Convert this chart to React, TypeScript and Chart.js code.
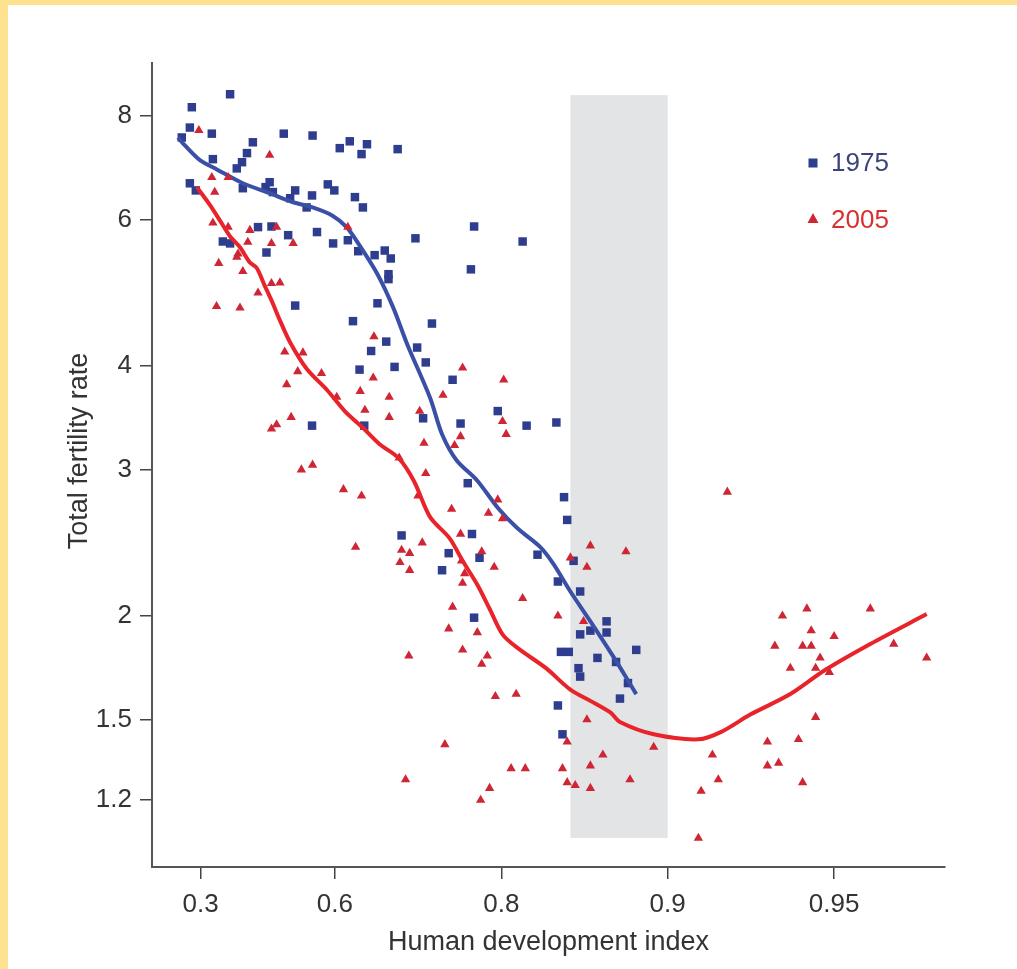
import React, { useEffect, useRef } from "react";
import { Chart, registerables } from "chart.js";

Chart.register(...registerables);

const W = 1017;
const H = 969;
const FONT = '"Liberation Sans", Arial, Helvetica, sans-serif';

// Axis ticks and ranges (HDI axis is drawn on a -ln(1 - HDI) scale)
const X_TICKS = [0.3, 0.6, 0.8, 0.9, 0.95];
const Y_TICKS = [1.2, 1.5, 2, 3, 4, 6, 8];
const X_RANGE = [0.143, 0.9685];
const Y_RANGE = [0.9966, 9.27];
const BAND_HDI = [0.85, 0.9];
const BAND_TFR = [1.08, 8.48];

const SERIES_NAMES = ["1975", "2005"];

// [HDI, total fertility rate]
const points1975: [number, number][] = [
  [0.381, 8.5], [0.274, 8.2], [0.268, 7.75], [0.243, 7.54], [0.332, 7.62],
  [0.505, 7.62], [0.561, 7.58], [0.608, 7.32], [0.624, 7.46], [0.65, 7.4],
  [0.642, 7.2], [0.437, 7.44], [0.423, 7.22], [0.335, 7.1], [0.411, 7.04],
  [0.398, 6.92], [0.268, 6.64], [0.286, 6.51], [0.413, 6.55], [0.475, 6.66],
  [0.466, 6.57], [0.482, 6.48], [0.528, 6.51], [0.518, 6.37], [0.56, 6.42],
  [0.55, 6.21], [0.588, 6.62], [0.599, 6.51], [0.632, 6.39], [0.644, 6.21],
  [0.449, 5.88], [0.479, 5.89], [0.569, 5.8], [0.514, 5.75], [0.362, 5.65],
  [0.381, 5.62], [0.468, 5.48], [0.597, 5.62], [0.621, 5.67], [0.661, 5.44],
  [0.692, 7.3], [0.637, 5.5], [0.675, 5.51], [0.683, 5.39], [0.68, 5.16],
  [0.68, 5.09], [0.665, 4.76], [0.714, 5.7], [0.776, 5.89], [0.817, 5.65],
  [0.773, 5.23], [0.629, 4.53], [0.733, 4.5], [0.677, 4.28], [0.656, 4.17],
  [0.716, 4.21], [0.726, 4.04], [0.688, 3.99], [0.639, 3.96], [0.755, 3.85],
  [0.797, 3.53], [0.723, 3.46], [0.763, 3.41], [0.646, 3.39], [0.82, 3.39],
  [0.841, 3.42], [0.77, 2.89], [0.528, 4.73], [0.56, 3.39], [0.846, 2.78],
  [0.848, 2.61], [0.774, 2.51], [0.751, 2.38], [0.781, 2.35], [0.828, 2.37],
  [0.697, 2.5], [0.744, 2.27], [0.842, 2.2], [0.852, 2.33], [0.856, 2.14],
  [0.776, 1.99], [0.871, 1.97], [0.856, 1.9], [0.862, 1.92], [0.871, 1.91],
  [0.844, 1.81], [0.849, 1.81], [0.866, 1.78], [0.876, 1.76], [0.886, 1.82],
  [0.855, 1.73], [0.856, 1.69], [0.882, 1.66], [0.878, 1.59], [0.842, 1.56],
  [0.845, 1.44],
];

const points2005: [number, number][] = [
  [0.295, 7.69], [0.475, 7.18], [0.332, 6.75], [0.376, 6.75], [0.34, 6.48],
  [0.335, 5.95], [0.376, 5.88], [0.43, 5.83], [0.49, 5.88], [0.425, 5.64],
  [0.479, 5.62], [0.524, 5.62], [0.621, 5.88], [0.401, 5.46], [0.351, 5.32],
  [0.398, 5.41], [0.413, 5.2], [0.449, 4.9], [0.479, 5.03], [0.497, 5.04],
  [0.345, 4.72], [0.406, 4.7], [0.507, 4.16], [0.543, 4.15], [0.533, 3.94],
  [0.577, 3.92], [0.511, 3.8], [0.603, 3.67], [0.479, 3.36], [0.49, 3.4],
  [0.52, 3.47], [0.66, 4.34], [0.765, 3.98], [0.802, 3.85], [0.659, 3.87],
  [0.64, 3.73], [0.681, 3.67], [0.745, 3.69], [0.647, 3.54], [0.681, 3.47],
  [0.719, 3.53], [0.801, 3.43], [0.804, 3.31], [0.763, 3.29], [0.757, 3.21],
  [0.724, 3.23], [0.694, 3.1], [0.726, 2.97], [0.614, 2.84], [0.642, 2.79],
  [0.717, 2.79], [0.754, 2.69], [0.789, 2.66], [0.797, 2.76], [0.801, 2.62],
  [0.763, 2.51], [0.783, 2.39], [0.862, 2.43], [0.881, 2.39], [0.85, 2.35],
  [0.722, 2.45], [0.697, 2.4], [0.707, 2.38], [0.695, 2.32], [0.707, 2.27],
  [0.794, 2.29], [0.764, 2.33], [0.767, 2.25], [0.765, 2.19], [0.817, 2.1],
  [0.755, 2.05], [0.751, 1.93], [0.779, 1.91], [0.765, 1.82], [0.788, 1.79],
  [0.783, 1.75], [0.706, 1.79], [0.842, 2.0], [0.86, 2.29], [0.858, 1.97],
  [0.795, 1.6], [0.812, 1.61], [0.86, 1.5], [0.848, 1.41], [0.869, 1.36],
  [0.862, 1.32], [0.819, 1.31], [0.845, 1.31], [0.848, 1.26], [0.853, 1.25],
  [0.862, 1.24], [0.883, 1.27], [0.894, 1.39], [0.917, 1.36], [0.919, 1.27],
  [0.913, 1.23], [0.912, 1.08], [0.922, 2.82], [0.938, 2.0], [0.944, 2.04],
  [0.957, 2.04], [0.945, 1.92], [0.95, 1.89], [0.936, 1.84], [0.943, 1.84],
  [0.945, 1.84], [0.947, 1.78], [0.94, 1.73], [0.946, 1.73], [0.949, 1.71],
  [0.961, 1.85], [0.966, 1.78], [0.946, 1.51], [0.934, 1.41], [0.942, 1.42],
  [0.934, 1.32], [0.937, 1.33], [0.943, 1.26], [0.54, 3.0], [0.561, 3.04],
  [0.633, 2.42], [0.702, 1.27], [0.747, 1.4], [0.782, 1.2], [0.79, 1.24],
  [0.808, 1.31],
];

// Smoothed trend curves
const trend1975: [number, number][] = [
  [0.231, 7.54], [0.252, 7.38], [0.298, 7.08], [0.346, 6.9], [0.413, 6.64],
  [0.475, 6.46], [0.524, 6.3], [0.561, 6.21], [0.596, 6.07], [0.619, 5.88],
  [0.639, 5.59], [0.665, 5.16], [0.686, 4.71], [0.704, 4.25], [0.731, 3.66],
  [0.744, 3.31], [0.759, 3.08], [0.779, 2.91], [0.797, 2.7], [0.813, 2.55],
  [0.83, 2.42], [0.839, 2.31], [0.85, 2.14], [0.862, 1.97], [0.875, 1.78],
  [0.886, 1.61],
];

const trend2005: [number, number][] = [
  [0.289, 6.57], [0.327, 6.25], [0.354, 5.99], [0.381, 5.73], [0.406, 5.56],
  [0.43, 5.33], [0.446, 5.25], [0.464, 5.0], [0.479, 4.8], [0.497, 4.54],
  [0.518, 4.27], [0.55, 3.97], [0.587, 3.74], [0.616, 3.53], [0.644, 3.37],
  [0.668, 3.22], [0.693, 3.1], [0.712, 2.91], [0.731, 2.63], [0.752, 2.48],
  [0.765, 2.33], [0.779, 2.18], [0.79, 2.04], [0.801, 1.9], [0.813, 1.83],
  [0.834, 1.73], [0.85, 1.63], [0.862, 1.58], [0.873, 1.53], [0.878, 1.49],
  [0.894, 1.44], [0.912, 1.42], [0.92, 1.45], [0.929, 1.52], [0.94, 1.61],
  [0.948, 1.72], [0.957, 1.85], [0.966, 2.01],
];

const BLUE_PT = "#2f3d8e";
const BLUE_LINE = "#3a4fa6";
const RED_PT = "#cf2636";
const RED_LINE = "#e8232a";

const tx = (h: number) => -Math.log(1 - h);
const toXY = (arr: [number, number][]) => arr.map(([h, v]) => ({ x: tx(h), y: v }));

const framePlugin = {
  id: "frame",
  beforeDraw(chart: any) {
    const { ctx, width, height } = chart;
    ctx.save();
    ctx.fillStyle = "#ffffff";
    ctx.fillRect(0, 0, width, height);
    ctx.fillStyle = "#FFE28F";
    ctx.fillRect(0, 0, width, 5);
    ctx.fillRect(0, 0, 8, height);
    ctx.restore();
  },
};

const bandPlugin = {
  id: "band",
  beforeDatasetsDraw(chart: any) {
    const { ctx } = chart;
    const x = chart.scales.x;
    const y = chart.scales.y;
    const x0 = x.getPixelForValue(tx(BAND_HDI[0]));
    const x1 = x.getPixelForValue(tx(BAND_HDI[1]));
    const y0 = y.getPixelForValue(BAND_TFR[1]);
    const y1 = y.getPixelForValue(BAND_TFR[0]);
    ctx.save();
    ctx.fillStyle = "#e3e4e6";
    ctx.fillRect(x0, y0, x1 - x0, y1 - y0);
    ctx.restore();
  },
};

const textPlugin = {
  id: "texts",
  afterDraw(chart: any) {
    const { ctx, chartArea } = chart;
    ctx.save();
    ctx.fillStyle = "#333333";
    ctx.font = `27px ${FONT}`;
    ctx.textAlign = "center";
    ctx.textBaseline = "middle";
    ctx.fillText("Human development index", (chartArea.left + chartArea.right) / 2, 943);
    ctx.translate(80, 451);
    ctx.rotate(-Math.PI / 2);
    ctx.fillText("Total fertility rate", 0, 0);
    ctx.restore();

    // legend
    ctx.save();
    ctx.font = `26px ${FONT}`;
    ctx.textAlign = "left";
    ctx.textBaseline = "middle";
    ctx.fillStyle = BLUE_PT;
    ctx.fillRect(808.5, 158.5, 9, 9);
    ctx.fillStyle = "#3b4478";
    ctx.fillText(SERIES_NAMES[0], 831, 164);
    ctx.fillStyle = RED_PT;
    ctx.beginPath();
    ctx.moveTo(813, 213);
    ctx.lineTo(818.5, 223);
    ctx.lineTo(807.5, 223);
    ctx.closePath();
    ctx.fill();
    ctx.fillStyle = "#d8302f";
    ctx.fillText(SERIES_NAMES[1], 831, 221);
    ctx.restore();
  },
};

export default function App() {
  const ref = useRef<HTMLCanvasElement | null>(null);

  useEffect(() => {
    if (!ref.current) return;
    const chart = new Chart(ref.current, {
      type: "scatter",
      data: {
        datasets: [
          {
            label: "2005 trend",
            data: toXY(trend2005),
            showLine: true,
            borderColor: RED_LINE,
            borderWidth: 4,
            pointRadius: 0,
            tension: 0.3,
            order: 0,
          },
          {
            label: SERIES_NAMES[1],
            data: toXY(points2005),
            pointStyle: "triangle",
            pointRadius: 5.4,
            backgroundColor: RED_PT,
            borderColor: RED_PT,
            borderWidth: 0,
            order: 1,
          },
          {
            label: "1975 trend",
            data: toXY(trend1975),
            showLine: true,
            borderColor: BLUE_LINE,
            borderWidth: 4,
            pointRadius: 0,
            tension: 0.3,
            order: 2,
          },
          {
            label: SERIES_NAMES[0],
            data: toXY(points1975),
            pointStyle: "rect",
            pointRadius: 6,
            backgroundColor: BLUE_PT,
            borderColor: BLUE_PT,
            borderWidth: 0,
            order: 3,
          },
        ],
      },
      options: {
        responsive: false,
        maintainAspectRatio: false,
        devicePixelRatio: 1,
        animation: false,
        events: [],
        layout: { padding: { top: 63, right: 72, left: 0, bottom: 0 } },
        plugins: { legend: { display: false }, tooltip: { enabled: false } },
        scales: {
          x: {
            type: "linear",
            min: tx(X_RANGE[0]),
            max: tx(X_RANGE[1]),
            afterBuildTicks: (scale: any) => {
              scale.ticks = X_TICKS.map((h) => ({ value: tx(h) }));
            },
            afterFit: (scale: any) => {
              scale.height = 102;
            },
            ticks: {
              autoSkip: false,
              maxRotation: 0,
              padding: 10,
              color: "#333333",
              font: { family: FONT, size: 26 },
              callback: (_v: any, i: number) => String(X_TICKS[i]),
            },
            grid: { drawOnChartArea: false, drawTicks: true, tickLength: 12, color: "#444444", lineWidth: 1.5 },
            border: { display: true, color: "#555555", width: 2 },
          },
          y: {
            type: "logarithmic",
            min: Y_RANGE[0],
            max: Y_RANGE[1],
            afterBuildTicks: (scale: any) => {
              scale.ticks = Y_TICKS.map((v) => ({ value: v }));
            },
            afterFit: (scale: any) => {
              scale.width = 152;
            },
            ticks: {
              autoSkip: false,
              padding: 8,
              color: "#333333",
              font: { family: FONT, size: 26 },
              callback: (v: any) => String(v),
            },
            grid: { drawOnChartArea: false, drawTicks: true, tickLength: 12, color: "#444444", lineWidth: 1.5 },
            border: { display: true, color: "#555555", width: 2 },
          },
        },
      },
      plugins: [framePlugin, bandPlugin, textPlugin],
    });
    return () => chart.destroy();
  }, []);

  return (
    <div style={{ position: "fixed", left: 0, top: 0, width: W, height: H }}>
      <canvas ref={ref} width={W} height={H} style={{ display: "block", width: W, height: H }} />
    </div>
  );
}
